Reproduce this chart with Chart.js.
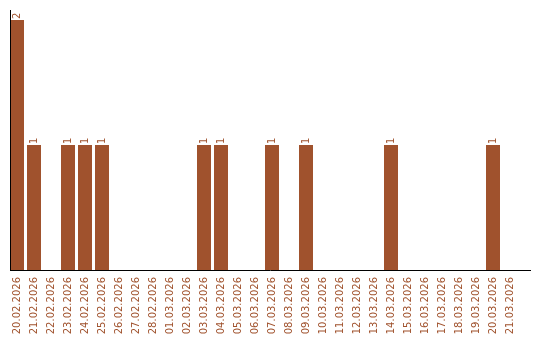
<!DOCTYPE html>
<html>
<head>
<meta charset="utf-8">
<script src="https://cdn.jsdelivr.net/npm/chart.js@4"></script>
<style>
  html, body { margin: 0; padding: 0; background: #fff; }
  #wrap { width: 540px; height: 340px; }
</style>
</head>
<body>
<div id="wrap"><canvas id="grafico"></canvas></div>
<script>
// Dados
const datas = [
  "20.02.2026", "21.02.2026", "22.02.2026", "23.02.2026", "24.02.2026",
  "25.02.2026", "26.02.2026", "27.02.2026", "28.02.2026", "01.03.2026",
  "02.03.2026", "03.03.2026", "04.03.2026", "05.03.2026", "06.03.2026",
  "07.03.2026", "08.03.2026", "09.03.2026", "10.03.2026", "11.03.2026",
  "12.03.2026", "13.03.2026", "14.03.2026", "15.03.2026", "16.03.2026",
  "17.03.2026", "18.03.2026", "19.03.2026", "20.03.2026", "21.03.2026"
];
const quantidades = [
  2, 1, 0, 1, 1,
  1, 0, 0, 0, 0,
  0, 1, 1, 0, 0,
  1, 0, 1, 0, 0,
  0, 0, 1, 0, 0,
  0, 0, 0, 1, 0
];

const cor = '#A0522D';
const fonte = 'DejaVu Sans';

// eixos desenhados à mão (linha preta fina)
const eixos = {
  id: 'eixos',
  afterDatasetsDraw(chart) {
    const { ctx, chartArea } = chart;
    ctx.save();
    ctx.strokeStyle = '#000';
    ctx.lineWidth = 1;
    ctx.beginPath();
    ctx.moveTo(10.5, chartArea.top);
    ctx.lineTo(10.5, chartArea.bottom);
    ctx.moveTo(10, chartArea.bottom + 0.5);
    ctx.lineTo(531, chartArea.bottom + 0.5);
    ctx.stroke();
    ctx.restore();
  }
};

// valores em cima das barras, girados
const rotulos = {
  id: 'rotulos',
  afterDatasetsDraw(chart) {
    const { ctx } = chart;
    const meta = chart.getDatasetMeta(0);
    ctx.save();
    ctx.fillStyle = cor;
    ctx.font = '10px "' + fonte + '"';
    ctx.textAlign = 'left';
    ctx.textBaseline = 'middle';
    meta.data.forEach((bar, i) => {
      const v = quantidades[i];
      if (!v) return;
      ctx.save();
      ctx.translate(bar.x, bar.y - 1);
      ctx.rotate(-Math.PI / 2);
      ctx.fillText(String(v), 0, 0);
      ctx.restore();
    });
    ctx.restore();
  }
};

new Chart(document.getElementById('grafico'), {
  type: 'bar',
  data: {
    labels: datas,
    datasets: [{
      data: quantidades,
      backgroundColor: cor,
      borderWidth: 0,
      barPercentage: 14 / 17,
      categoryPercentage: 1
    }]
  },
  options: {
    responsive: true,
    maintainAspectRatio: false,
    animation: false,
    layout: { padding: { left: 8.5, right: 21.5, top: 10, bottom: 0 } },
    plugins: {
      legend: { display: false },
      tooltip: { enabled: false }
    },
    scales: {
      x: {
        grid: { display: false, drawTicks: false },
        border: { display: false },
        afterFit: s => { s.height = 70; },
        ticks: {
          autoSkip: false,
          maxRotation: 90,
          minRotation: 90,
          padding: 7,
          color: cor,
          font: { family: fonte, size: 10 }
        }
      },
      y: {
        display: false,
        min: 0,
        max: 2.08
      }
    }
  },
  plugins: [eixos, rotulos]
});
</script>
</body>
</html>
